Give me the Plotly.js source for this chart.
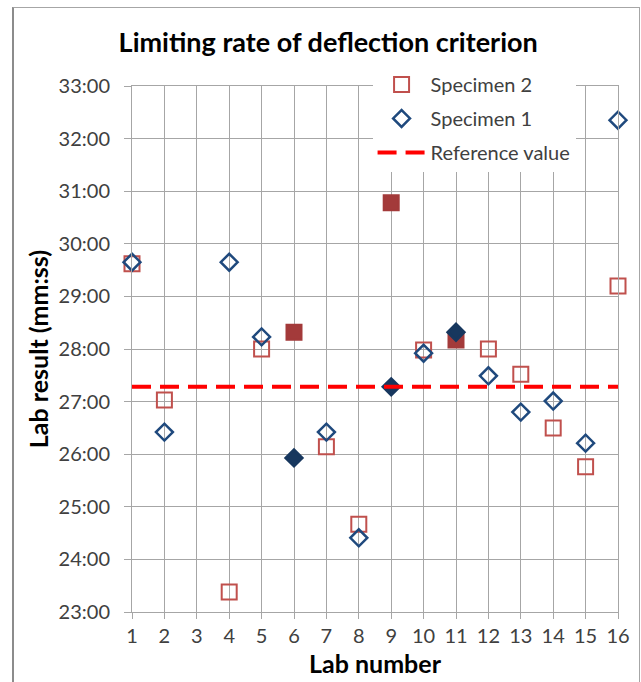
<!DOCTYPE html>
<html>
<head>
<meta charset="utf-8">
<script src="https://cdn.plot.ly/plotly-3.0.1.min.js"></script>
<style>
  html, body { margin: 0; padding: 0; background: #ffffff; }
  #wrap { position: relative; width: 641px; height: 682px; overflow: hidden; }
  #chart { position: absolute; left: 0; top: 0; width: 641px; height: 682px; }
  #frame { position: absolute; left: 12px; top: 7px; width: 625px; height: 700px;
           border: 1px solid #a6a6a6; border-left: 2px solid #8c8c8c; pointer-events: none; }
</style>
</head>
<body>
<div id="wrap">
  <div id="chart"></div>
  <div id="frame"></div>
</div>
<script>
// ---- data (minutes, decimal) ----
const labs = [1, 2, 3, 4, 5, 6, 7, 8, 9, 10, 11, 12, 13, 14, 15, 16];
const specimen2 = [29.62, 27.03, null, 23.38, 28.00, 28.32, 26.14, 24.67, 30.78, 27.98, 28.17, 28.00, 27.52, 26.50, 25.76, 29.20];
const specimen1 = [29.65, 26.42, null, 29.65, 28.23, 25.93, 26.42, 24.41, 27.28, 27.92, 28.32, 27.49, 26.80, 27.01, 26.21, 32.35];
const referenceValue = 27.28;
const flaggedLabs = [6, 9, 11];
const yTickVals = [23, 24, 25, 26, 27, 28, 29, 30, 31, 32, 33];
const yTickText = ["23:00", "24:00", "25:00", "26:00", "27:00", "28:00", "29:00", "30:00", "31:00", "32:00", "33:00"];
const xTickVals = labs;

const red = "#C0504D", redFill = "#A33A3A";
const blue = "#1F497D", blueFill = "#17375E";

const isFlag = labs.map(l => flaggedLabs.includes(l));

const trS2 = {
  type: "scatter", mode: "markers", name: "Specimen 2",
  x: labs, y: specimen2, cliponaxis: false, legendgroup: "a",
  marker: {
    symbol: isFlag.map(f => f ? "square" : "square-open"),
    size: 15,
    color: isFlag.map(f => f ? redFill : red),
    line: { width: 2, color: isFlag.map(f => f ? redFill : red) }
  }
};
const trS1 = {
  type: "scatter", mode: "markers", name: "Specimen 1",
  x: labs, y: specimen1, cliponaxis: false, legendgroup: "b",
  marker: {
    symbol: isFlag.map(f => f ? "diamond" : "diamond-open"),
    size: 13,
    color: isFlag.map(f => f ? blueFill : blue),
    line: { width: 2.5, color: isFlag.map(f => f ? blueFill : blue) }
  }
};
const trRef = {
  type: "scatter", mode: "lines", name: "Reference value",
  x: [labs[0], labs[labs.length - 1]], y: [referenceValue, referenceValue],
  legendgroup: "c",
  line: { color: "#FF0000", width: 4, dash: "19px,9px" }
};

const grid = "#a6a6a6";
const font = "Lato, 'DejaVu Sans', sans-serif";

const layout = {
  width: 641, height: 682,
  margin: { l: 132, r: 23, t: 86, b: 70 },
  paper_bgcolor: "rgba(0,0,0,0)", plot_bgcolor: "#ffffff",
  font: { family: font, color: "#404040", size: 20 },
  title: { text: "<b>Limiting rate of deflection criterion</b>", x: 0.512, xanchor: "center",
           y: 0.937, yanchor: "middle", font: { family: font, size: 27, color: "#000000" } },
  xaxis: {
    range: [1, 16], tickvals: xTickVals, ticktext: xTickVals.map(String),
    showgrid: true, gridcolor: grid, gridwidth: 1, zeroline: false,
    showline: true, linecolor: grid, linewidth: 1, mirror: true,
    ticks: "outside", ticklen: 6, tickcolor: grid,
    tickfont: { size: 20, color: "#404040" },
    title: { text: "<b>Lab number</b>", font: { size: 25, color: "#000000" }, standoff: 9 }
  },
  yaxis: {
    range: [23, 33], tickvals: yTickVals, ticktext: yTickText,
    showgrid: true, gridcolor: grid, gridwidth: 1, zeroline: false,
    showline: true, linecolor: grid, linewidth: 1, mirror: true,
    ticks: "outside", ticklen: 7, tickcolor: grid, ticklabelstandoff: 10,
    tickfont: { size: 20, color: "#404040" },
    title: { text: "<b>Lab result (mm:ss)</b>", font: { size: 25, color: "#000000" }, standoff: 2 }
  },
  showlegend: true,
  legend: {
    x: 0.495, xanchor: "left", y: 1.04, yanchor: "top",
    bgcolor: "#ffffff", borderwidth: 0,
    font: { size: 20, color: "#404040" },
    tracegroupgap: 5, itemwidth: 48
  }
};

Plotly.newPlot("chart", [trS2, trS1, trRef], layout, { displayModeBar: false, staticPlot: true });
</script>
</body>
</html>
